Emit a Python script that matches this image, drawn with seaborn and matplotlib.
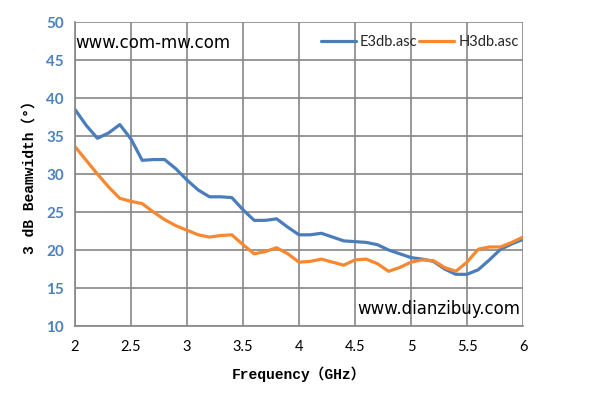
import numpy as np
import pandas as pd
import matplotlib
matplotlib.use("Agg")
import matplotlib.pyplot as plt
import seaborn as sns

freq = [2.0, 2.1, 2.2, 2.3, 2.4, 2.5, 2.6, 2.7, 2.8, 2.9, 3.0, 3.1, 3.2, 3.3, 3.4,
        3.5, 3.6, 3.7, 3.8, 3.9, 4.0, 4.1, 4.2, 4.3, 4.4, 4.5, 4.6, 4.7, 4.8, 4.9,
        5.0, 5.1, 5.2, 5.3, 5.4, 5.5, 5.6, 5.7, 5.8, 5.9, 6.0]
e3db = [38.5, 36.4, 34.7, 35.4, 36.5, 34.6, 31.8, 31.9, 31.9, 30.7, 29.2, 27.9, 27.0, 27.0, 26.9,
        25.3, 23.9, 23.9, 24.1, 23.0, 22.0, 22.0, 22.2, 21.7, 21.2, 21.1, 21.0, 20.7, 20.0, 19.5,
        19.0, 18.8, 18.5, 17.5, 16.8, 16.8, 17.4, 18.7, 20.1, 20.8, 21.4]
h3db = [33.6, 31.8, 30.0, 28.3, 26.8, 26.4, 26.1, 25.0, 24.0, 23.2, 22.6, 22.0, 21.7, 21.9, 22.0,
        20.7, 19.5, 19.8, 20.3, 19.5, 18.4, 18.5, 18.8, 18.4, 18.0, 18.7, 18.8, 18.2, 17.2, 17.7,
        18.4, 18.7, 18.6, 17.7, 17.2, 18.4, 20.1, 20.4, 20.4, 21.0, 21.7]
series_names = ["E3db.asc", "H3db.asc"]
colors = ["#4A7EBB", "#F7882F"]
x_ticks = [2, 2.5, 3, 3.5, 4, 4.5, 5, 5.5, 6]
x_tick_labels = ["2", "2.5", "3", "3.5", "4", "4.5", "5", "5.5", "6"]
y_ticks = [10, 15, 20, 25, 30, 35, 40, 45, 50]

df = pd.DataFrame({
    "freq": freq + freq,
    "bw": e3db + h3db,
    "series": [series_names[0]] * len(freq) + [series_names[1]] * len(freq),
})

sns.set_theme(style="white")
plt.rcParams['font.family'] = ['Lato', 'DejaVu Sans']

fig = plt.figure(figsize=(5.96, 4.08), dpi=100)
ax = fig.add_axes([75/596, 1-326/408, 448/596, 304/408])

sns.lineplot(data=df, x="freq", y="bw", hue="series", palette=colors,
             linewidth=2.3, ax=ax, legend=True)
for ln in ax.lines:
    ln.set_solid_joinstyle("round")
    ln.set_solid_capstyle("round")

ax.set_xlim(2, 6)
ax.set_ylim(10, 50)
ax.set_xticks(x_ticks)
ax.set_xticklabels(x_tick_labels)
ax.set_yticks(y_ticks)
ax.grid(True, color="#868686", linewidth=1.2)
ax.set_axisbelow(True)
for s in ["top", "right"]:
    ax.spines[s].set_visible(False)
for s in ["left", "bottom"]:
    ax.spines[s].set_color("#868686")
    ax.spines[s].set_linewidth(1.2)
ax.tick_params(axis="both", direction="out", length=4, width=1, color="#868686")
ax.tick_params(axis="x", labelsize=10.5, labelcolor="black", pad=6)
ax.tick_params(axis="y", labelsize=11, labelcolor="#4F81BD", pad=4)
for lab in ax.get_yticklabels():
    lab.set_fontweight("bold")

mono = ['Liberation Mono', 'Noto Sans CJK SC']
ax.set_xlabel("Frequency（GHz）", fontsize=10.5, family=mono, fontweight="bold",
              color="black", labelpad=9)
ax.set_ylabel("3 dB Beamwidth（°）", fontsize=10.5, family=mono, fontweight="bold",
              color="black", labelpad=7)

leg = ax.legend(loc="upper right", bbox_to_anchor=(1.01, 0.985), ncol=2, frameon=False,
                fontsize=10.5, handlelength=2.4, handletextpad=0.3, columnspacing=0.1,
                borderaxespad=0.2)

ax.text(0.0, 0.93, "www.com-mw.com", transform=ax.transAxes, fontsize=12,
        family="DejaVu Sans", ha="left", va="center", color="black")
ax.text(0.995, 0.055, "www.dianzibuy.com", transform=ax.transAxes, fontsize=12,
        family="DejaVu Sans", ha="right", va="center", color="black")

fig.savefig("out.png", dpi=100)
